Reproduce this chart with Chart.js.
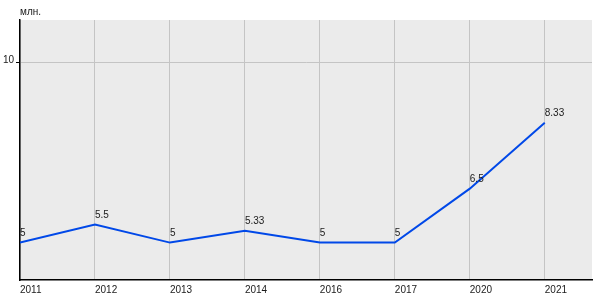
<!DOCTYPE html>
<html lang="ru">
<head>
    <title>Chart</title>
    <script src="https://cdn.jsdelivr.net/npm/chart.js"></script>
    <style>
        html, body { margin: 0; padding: 0; background: #fff; }
        .chart-container { width: 600px; height: 300px; }
    </style>
</head>
<body>

<div class="chart-container">
    <canvas id="lineChart" width="600" height="300"></canvas>
</div>

<script>
    const years = ['2011', '2012', '2013', '2014', '2016', '2017', '2020', '2021'];
    const values = [5, 5.5, 5, 5.33, 5, 5, 6.5, 8.33];
    const yTicks = [10];
    const unitLabel = 'млн.';

    const points = values.map((v, i) => ({ x: i, y: v }));
    const fontFamily = '"Liberation Sans Narrow", "Arial Narrow", "Liberation Sans", sans-serif';

    // grey plot area, unit caption and value labels
    const decorations = {
        id: 'decorations',
        beforeDraw(chart) {
            const { ctx, chartArea: a } = chart;
            ctx.save();
            ctx.fillStyle = '#ebebeb';
            ctx.fillRect(a.left, a.top, a.right - a.left, a.bottom - a.top);
            ctx.restore();
        },
        afterDatasetsDraw(chart) {
            const { ctx, chartArea: a } = chart;
            ctx.save();
            ctx.font = '10px ' + fontFamily;
            ctx.fillStyle = '#1a1a1a';
            ctx.textAlign = 'left';
            ctx.textBaseline = 'alphabetic';
            ctx.fillText(unitLabel, a.left, a.top - 5);
            const meta = chart.getDatasetMeta(0);
            meta.data.forEach((pt, i) => {
                ctx.fillText(String(values[i]), pt.x, pt.y - 7);
            });
            ctx.restore();
        }
    };

    const ctx = document.getElementById('lineChart').getContext('2d');
    new Chart(ctx, {
        type: 'line',
        data: {
            datasets: [{
                data: points,
                borderColor: '#0048e8',
                borderWidth: 2,
                pointRadius: 0,
                tension: 0,
                fill: false
            }]
        },
        options: {
            responsive: false,
            animation: false,
            devicePixelRatio: 1,
            layout: { padding: { left: 0, top: 20, right: 8, bottom: 0 } },
            plugins: {
                legend: { display: false },
                tooltip: { enabled: false }
            },
            scales: {
                x: {
                    type: 'linear',
                    min: 0,
                    max: 7.63,
                    afterBuildTicks: scale => {
                        scale.ticks = years.map((y, i) => ({ value: i }));
                    },
                    afterFit: scale => { scale.height = 20; },
                    ticks: {
                        align: 'start',
                        padding: 4,
                        maxRotation: 0,
                        autoSkip: false,
                        color: '#1a1a1a',
                        font: { family: fontFamily, size: 10 },
                        callback: v => years[v]
                    },
                    grid: { color: '#c4c4c4', lineWidth: 1, drawTicks: false },
                    border: { color: '#000', width: 1.5 }
                },
                y: {
                    min: 3.96,
                    max: 11.19,
                    afterBuildTicks: scale => {
                        scale.ticks = yTicks.map(v => ({ value: v }));
                    },
                    afterFit: scale => { scale.width = 20; },
                    ticks: {
                        padding: 2,
                        labelOffset: -3,
                        color: '#1a1a1a',
                        font: { family: fontFamily, size: 10 }
                    },
                    grid: { color: '#c4c4c4', lineWidth: 1, tickLength: 4, tickColor: '#000' },
                    border: { color: '#000', width: 1.5 }
                }
            }
        },
        plugins: [decorations]
    });
</script>

</body>
</html>
